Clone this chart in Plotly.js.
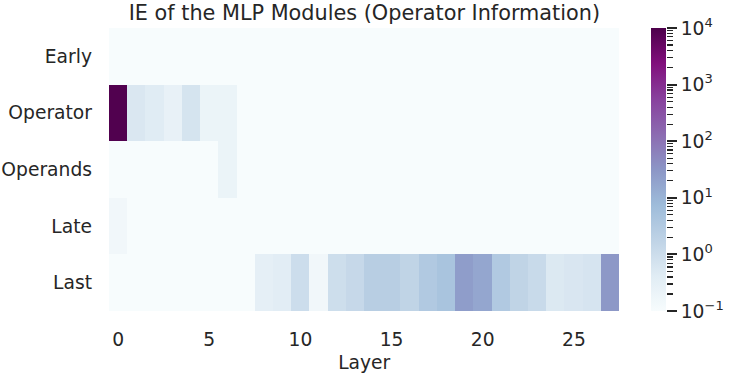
<!DOCTYPE html>
<html>
<head>
<meta charset="utf-8">
<script src="https://cdn.plot.ly/plotly-3.0.1.min.js"></script>
<style>body{margin:0;background:#fff}</style>
</head>
<body>
<div id="chart" style="width:747px;height:374px;"></div>
<script>
// rows of the heatmap (top to bottom) and the layer index on x
let groups = ["Early", "Operator", "Operands", "Late", "Last"];
let layers = [0,1,2,3,4,5,6,7,8,9,10,11,12,13,14,15,16,17,18,19,20,21,22,23,24,25,26,27];

// IE per layer (0.01 = below the colour range)
let early    = [0.01,0.01,0.01,0.01,0.01,0.01,0.01,0.01,0.01,0.01,0.01,0.01,0.01,0.01,0.01,0.01,0.01,0.01,0.01,0.01,0.01,0.01,0.01,0.01,0.01,0.01,0.01,0.01];
let operator = [9000,0.55,0.42,0.26,0.68,0.21,0.21,0.01,0.01,0.01,0.01,0.01,0.01,0.01,0.01,0.01,0.01,0.01,0.01,0.01,0.01,0.01,0.01,0.01,0.01,0.01,0.01,0.01];
let operands = [0.01,0.01,0.01,0.01,0.01,0.01,0.21,0.01,0.01,0.01,0.01,0.01,0.01,0.01,0.01,0.01,0.01,0.01,0.01,0.01,0.01,0.01,0.01,0.01,0.01,0.01,0.01,0.01];
let late     = [0.15,0.01,0.01,0.01,0.01,0.01,0.01,0.01,0.01,0.01,0.01,0.01,0.01,0.01,0.01,0.01,0.01,0.01,0.01,0.01,0.01,0.01,0.01,0.01,0.01,0.01,0.01,0.01];
let last     = [0.01,0.01,0.01,0.01,0.01,0.01,0.01,0.01,0.31,0.37,1.0,0.15,0.95,1.3,2.4,2.4,1.7,3.3,4.6,24,17,3.3,1.7,1.2,0.5,0.58,0.65,29];

let xTicks = [0, 5, 10, 15, 20, 25];
let cbTickVals = [0.1, 1, 10, 100, 1000, 10000];
let cbTickText = ["10<sup>\u22121</sup>", "10<sup>0</sup>", "10<sup>1</sup>", "10<sup>2</sup>", "10<sup>3</sup>", "10<sup>4</sup>"];

// minor ticks 2..9 in each decade for the log colour bar
let minorVals = [];
cbTickVals.slice(0, 5).forEach(d => {
    for (let k = 2; k <= 9; k++) minorVals.push(d * k);
});

// matplotlib BuPu
let bupu = [
    [0.0, "#f7fcfd"], [0.125, "#e0ecf4"], [0.25, "#bfd3e6"], [0.375, "#9ebcda"],
    [0.5, "#8c96c6"], [0.625, "#8c6bb1"], [0.75, "#88419d"], [0.875, "#810f7c"], [1.0, "#4d004b"]
];

let ink = "#262626";
let font = "DejaVu Sans";

let z = [early, operator, operands, late, last].map(row => row.map(v => Math.log10(v)));

let heat = {
    type: "heatmap",
    x: layers,
    y: groups,
    z: z,
    zmin: -1,
    zmax: 4,
    colorscale: bupu,
    xgap: 0,
    ygap: 0,
    colorbar: {
        x: 0.973, xanchor: "left", xpad: 0,
        y: 0, yanchor: "bottom", ypad: 0,
        len: 1, thickness: 14.5,
        outlinewidth: 0,
        showticklabels: false,
        ticks: ""
    }
};

// empty trace so the log axis beside the colour bar gets drawn
let cbAxis = {
    type: "scatter",
    x: [], y: [],
    xaxis: "x", yaxis: "y2",
    showlegend: false,
    hoverinfo: "skip"
};

let layout = {
    width: 747,
    height: 374,
    margin: {l: 109, r: 81, t: 28, b: 63},
    paper_bgcolor: "white",
    plot_bgcolor: "white",
    font: {family: font, color: ink, size: 18.7},
    title: {
        text: "IE of the MLP Modules (Operator Information)",
        font: {family: font, color: ink, size: 20.8},
        x: 0.4585, xanchor: "center", xref: "paper",
        y: 0.966, yanchor: "middle", yref: "container"
    },
    xaxis: {
        domain: [0, 0.9165],
        range: [-0.5, 27.5],
        tickvals: xTicks,
        ticks: "",
        ticklabelstandoff: 15,
        showgrid: false,
        zeroline: false,
        showline: false,
        tickfont: {size: 18.7},
        title: {text: "Layer", font: {size: 18.7}, standoff: 7}
    },
    yaxis: {
        autorange: "reversed",
        ticks: "",
        ticklabelstandoff: 16,
        showgrid: false,
        zeroline: false,
        showline: false,
        tickfont: {size: 18.7}
    },
    yaxis2: {
        type: "log",
        range: [-1, 4],
        overlaying: "y",
        anchor: "free",
        position: 1,
        side: "right",
        showgrid: false,
        zeroline: false,
        showline: false,
        tickmode: "array",
        tickvals: cbTickVals,
        ticktext: cbTickText,
        ticks: "outside",
        ticklen: 10,
        tickwidth: 2,
        tickcolor: ink,
        tickfont: {size: 18.7},
        minor: {
            tickmode: "array",
            tickvals: minorVals,
            ticks: "outside",
            ticklen: 6,
            tickwidth: 1.2,
            tickcolor: ink
        }
    }
};

Plotly.newPlot("chart", [heat, cbAxis], layout, {displayModeBar: false, staticPlot: true});
</script>
</body>
</html>
